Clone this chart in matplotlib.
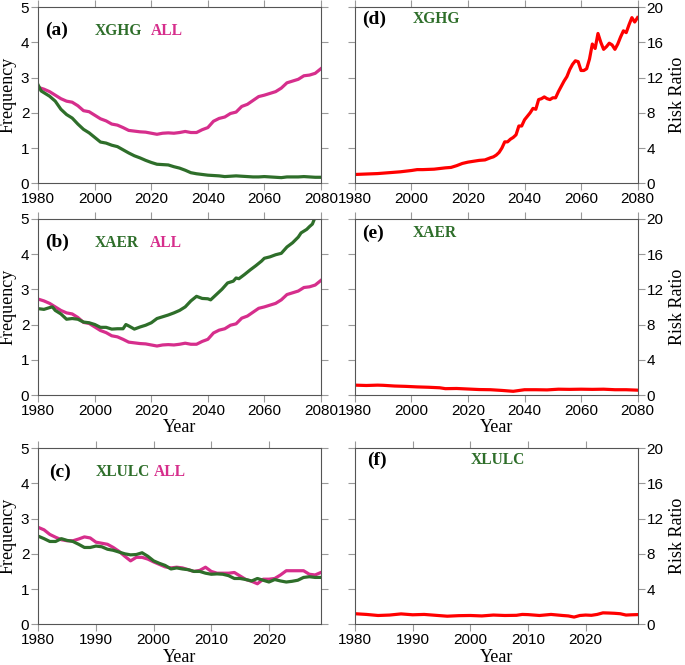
import numpy as np
import matplotlib
matplotlib.use("Agg")
import matplotlib.pyplot as plt

# Frequency, ALL forcing (same curve in a and b)
yr_all = [1980, 1982, 1984, 1986, 1988, 1990, 1992, 1994, 1996, 1998,
          2000, 2002, 2004, 2006, 2008, 2010, 2012, 2014, 2016, 2018,
          2020, 2022, 2024, 2026, 2028, 2030, 2032, 2034, 2036, 2038,
          2040, 2042, 2044, 2046, 2048, 2050, 2052, 2054, 2056, 2058,
          2060, 2062, 2064, 2066, 2068, 2070, 2072, 2074, 2076, 2078, 2080]
freq_all = [2.72, 2.67, 2.60, 2.50, 2.40, 2.33, 2.30, 2.20, 2.06, 2.03,
            1.93, 1.83, 1.77, 1.68, 1.65, 1.58, 1.50, 1.48, 1.46, 1.45,
            1.42, 1.39, 1.42, 1.43, 1.42, 1.44, 1.47, 1.44, 1.44, 1.52,
            1.58, 1.76, 1.84, 1.88, 1.98, 2.02, 2.18, 2.24, 2.35, 2.46,
            2.50, 2.55, 2.60, 2.70, 2.85, 2.90, 2.95, 3.05, 3.07, 3.12, 3.25]

# Frequency, XGHG
yr_xghg = [1980, 1981, 1982, 1984, 1986, 1988, 1990, 1992, 1994, 1996, 1998,
           2000, 2002, 2004, 2006, 2008, 2010, 2012, 2014, 2016, 2018,
           2020, 2022, 2024, 2026, 2028, 2030, 2032, 2034, 2036, 2038,
           2040, 2042, 2044, 2046, 2048, 2050, 2052, 2054, 2056, 2058,
           2060, 2062, 2064, 2066, 2068, 2070, 2072, 2074, 2076, 2078, 2080]
freq_xghg = [2.78, 2.62, 2.57, 2.47, 2.33, 2.10, 1.95, 1.85, 1.68, 1.53, 1.43,
             1.30, 1.17, 1.14, 1.08, 1.04, 0.95, 0.86, 0.78, 0.72, 0.65,
             0.59, 0.54, 0.53, 0.52, 0.47, 0.43, 0.37, 0.30, 0.27, 0.25,
             0.23, 0.22, 0.21, 0.19, 0.20, 0.21, 0.20, 0.19, 0.18, 0.18,
             0.19, 0.18, 0.17, 0.16, 0.18, 0.18, 0.18, 0.19, 0.18, 0.17, 0.17]

# Frequency, XAER
yr_xaer = [1980, 1982, 1984, 1985, 1986, 1988, 1990, 1992, 1994, 1996, 1998,
           2000, 2002, 2004, 2006, 2008, 2010, 2011, 2012, 2014, 2016, 2018,
           2020, 2022, 2024, 2026, 2028, 2030, 2032, 2034, 2036, 2038, 2040,
           2041, 2043, 2045, 2047, 2049, 2050, 2051, 2053, 2055, 2057, 2059,
           2060, 2062, 2064, 2066, 2068, 2070, 2072, 2073, 2075, 2076, 2077, 2078, 2080]
freq_xaer = [2.45, 2.43, 2.48, 2.50, 2.40, 2.30, 2.15, 2.17, 2.15, 2.07, 2.05,
             2.00, 1.92, 1.92, 1.87, 1.88, 1.88, 2.00, 1.96, 1.87, 1.93, 1.98,
             2.05, 2.17, 2.22, 2.27, 2.33, 2.40, 2.50, 2.67, 2.80, 2.74, 2.73,
             2.70, 2.85, 3.00, 3.18, 3.23, 3.32, 3.30, 3.42, 3.55, 3.67, 3.80,
             3.88, 3.92, 3.98, 4.02, 4.20, 4.32, 4.48, 4.60, 4.70, 4.78, 4.85, 5.05, 5.30]

# Frequency, 1980-2029 (panel c)
yr_c = list(range(1980, 2030))
freq_all_c = [2.75, 2.68, 2.55, 2.47, 2.40, 2.37, 2.37, 2.42, 2.48, 2.45,
              2.33, 2.30, 2.27, 2.18, 2.07, 1.93, 1.80, 1.90, 1.90, 1.85,
              1.77, 1.70, 1.63, 1.60, 1.62, 1.60, 1.55, 1.50, 1.53, 1.62,
              1.50, 1.45, 1.45, 1.45, 1.47, 1.37, 1.27, 1.22, 1.15, 1.28,
              1.28, 1.30, 1.40, 1.52, 1.52, 1.52, 1.52, 1.42, 1.40, 1.47]
freq_xlulc = [2.50, 2.43, 2.35, 2.35, 2.43, 2.38, 2.35, 2.27, 2.18, 2.18,
              2.22, 2.20, 2.13, 2.10, 2.05, 2.00, 1.97, 1.98, 2.03, 1.93,
              1.80, 1.73, 1.67, 1.57, 1.60, 1.57, 1.55, 1.50, 1.50, 1.45,
              1.42, 1.43, 1.42, 1.38, 1.30, 1.30, 1.27, 1.23, 1.30, 1.25,
              1.20, 1.27, 1.23, 1.20, 1.22, 1.25, 1.33, 1.35, 1.33, 1.33]

# Risk ratio, XGHG (panel d)
yr_rr_xghg = [1980, 1984, 1988, 1992, 1996, 2000, 2002, 2004, 2008, 2012, 2014,
              2016, 2018, 2020, 2022, 2024, 2026, 2028, 2029, 2030, 2031, 2032,
              2033, 2034, 2035, 2036, 2037, 2038, 2039, 2040, 2041, 2042, 2043,
              2044, 2045, 2046, 2047, 2048, 2049, 2050, 2051, 2052, 2053, 2054,
              2055, 2056, 2057, 2058, 2059, 2060, 2061, 2062, 2063, 2064, 2065,
              2066, 2067, 2068, 2069, 2070, 2071, 2072, 2073, 2074, 2075, 2076,
              2077, 2078, 2079, 2080]
rr_xghg = [1.0, 1.05, 1.1, 1.2, 1.3, 1.45, 1.55, 1.55, 1.6, 1.75, 1.8,
           2.0, 2.25, 2.4, 2.5, 2.6, 2.65, 2.9, 3.0, 3.2, 3.5, 4.0,
           4.7, 4.7, 5.0, 5.2, 5.5, 6.5, 6.5, 7.2, 7.6, 8.0, 8.5,
           8.4, 9.5, 9.6, 9.8, 9.6, 9.5, 9.7, 9.7, 10.4, 11.0, 11.6,
           12.1, 12.9, 13.5, 13.9, 13.8, 12.8, 12.8, 13.0, 14.1, 15.8, 15.3,
           17.0, 16.0, 15.2, 15.5, 15.9, 15.7, 15.2, 15.8, 16.6, 17.3, 17.1,
           18.0, 18.8, 18.3, 18.8]

# Risk ratio, XAER (panel e)
yr_rr_xaer = [1980, 1984, 1988, 1990, 1994, 1998, 2002, 2006, 2010, 2012, 2016,
              2020, 2024, 2028, 2032, 2036, 2040, 2044, 2048, 2052, 2056, 2060,
              2064, 2068, 2072, 2076, 2080]
rr_xaer = [1.12, 1.08, 1.12, 1.10, 1.02, 0.98, 0.92, 0.88, 0.82, 0.72, 0.74,
           0.68, 0.62, 0.60, 0.52, 0.42, 0.60, 0.60, 0.58, 0.66, 0.64, 0.66,
           0.64, 0.66, 0.60, 0.60, 0.55]

# Risk ratio, XLULC (panel f)
yr_rr_xlulc = [1980, 1982, 1984, 1986, 1988, 1990, 1992, 1994, 1996, 1998, 2000,
               2002, 2004, 2006, 2008, 2009, 2010, 2012, 2014, 2016, 2017, 2018,
               2019, 2020, 2021, 2022, 2023, 2024, 2025, 2026, 2027, 2028, 2029]
rr_xlulc = [1.2, 1.12, 1.0, 1.05, 1.18, 1.08, 1.12, 1.02, 0.92, 0.98, 1.0,
            0.95, 1.05, 1.0, 1.02, 1.12, 1.1, 1.0, 1.12, 1.0, 0.95, 0.82,
            1.0, 1.05, 1.02, 1.12, 1.3, 1.28, 1.25, 1.2, 1.05, 1.08, 1.1]

GREEN = '#2e6e2a'
PINK = '#d62e8c'
RED = '#ff0000'
SANS = 'Liberation Sans'
SERIF = 'Liberation Serif'

plt.rcParams['font.family'] = SANS

fig = plt.figure(figsize=(6.85, 6.65), dpi=100)

lw_ax = 0.0559
rw_ax = 0.5182
ax_w = 0.4125
ax_h = 0.2650
rows = [0.7244, 0.4060, 0.0612]

def style(ax, right=False):
    for s in ax.spines.values():
        s.set_color('#555555')
        s.set_linewidth(0.8)
    ax.tick_params(direction='out', length=5, width=0.8, color='#999999',
                   top=True, right=True, left=True, bottom=True,
                   labelsize=11, pad=1.5)
    if right:
        ax.tick_params(labelleft=False, labelright=True)
    for lab in ax.get_xticklabels() + ax.get_yticklabels():
        lab.set_fontfamily(SANS)

axes = {}
for i, key in enumerate(['a', 'b', 'c']):
    axes[key] = fig.add_axes([lw_ax, rows[i], ax_w, ax_h])
for i, key in enumerate(['d', 'e', 'f']):
    axes[key] = fig.add_axes([rw_ax, rows[i], ax_w, ax_h])

# left column: frequency
ax = axes['a']
ax.plot(yr_all, freq_all, color=PINK, lw=2.3)
ax.plot(yr_xghg, freq_xghg, color=GREEN, lw=2.3)

ax = axes['b']
ax.plot(yr_all, freq_all, color=PINK, lw=2.3)
ax.plot(yr_xaer, freq_xaer, color=GREEN, lw=2.3)

ax = axes['c']
ax.plot(yr_c, freq_all_c, color=PINK, lw=2.3)
ax.plot(yr_c, freq_xlulc, color=GREEN, lw=2.3)

for key in ['a', 'b', 'c']:
    ax = axes[key]
    ax.set_ylim(0, 5)
    ax.set_yticks(range(0, 6))
    ax.set_ylabel('Frequency', fontfamily=SERIF, fontsize=13, labelpad=3)

# right column: risk ratio
axes['d'].plot(yr_rr_xghg, rr_xghg, color=RED, lw=2.3)
axes['e'].plot(yr_rr_xaer, rr_xaer, color=RED, lw=2.3)
axes['f'].plot(yr_rr_xlulc, rr_xlulc, color=RED, lw=2.3)

for key in ['d', 'e', 'f']:
    ax = axes[key]
    ax.set_ylim(0, 20)
    ax.set_yticks(range(0, 21, 4))
    ax.yaxis.set_label_position('right')
    ax.set_ylabel('Risk Ratio', fontfamily=SERIF, fontsize=13, labelpad=4)

for key in ['a', 'b', 'd', 'e']:
    axes[key].set_xlim(1980, 2080)
    axes[key].set_xticks(range(1980, 2081, 20))
for key in ['c', 'f']:
    axes[key].set_xlim(1980, 2029)
    axes[key].set_xticks(range(1980, 2021, 10))
for key in ['b', 'c', 'e', 'f']:
    axes[key].set_xlabel('Year', fontfamily=SERIF, fontsize=13, labelpad=1)

for key in ['a', 'b', 'c']:
    style(axes[key])
for key in ['d', 'e', 'f']:
    style(axes[key], right=True)

# panel labels and series names
def tag(ax, x, y, s, color='black', size=14):
    ax.text(x, y, s, transform=ax.transAxes, fontfamily=SERIF,
            fontweight='bold', fontsize=size, color=color, va='center')

NAME = 11.2
tag(axes['a'], 0.025, 0.865, '(a)')
tag(axes['a'], 0.20, 0.865, 'XGHG', GREEN, NAME)
tag(axes['a'], 0.40, 0.865, 'ALL', PINK, NAME)
tag(axes['b'], 0.025, 0.865, '(b)')
tag(axes['b'], 0.20, 0.865, 'XAER', GREEN, NAME)
tag(axes['b'], 0.395, 0.865, 'ALL', PINK, NAME)
tag(axes['c'], 0.04, 0.865, '(c)')
tag(axes['c'], 0.205, 0.865, 'XLULC', GREEN, NAME)
tag(axes['c'], 0.41, 0.865, 'ALL', PINK, NAME)
tag(axes['d'], 0.025, 0.93, '(d)')
tag(axes['d'], 0.205, 0.93, 'XGHG', GREEN, NAME)
tag(axes['e'], 0.025, 0.92, '(e)')
tag(axes['e'], 0.205, 0.92, 'XAER', GREEN, NAME)
tag(axes['f'], 0.042, 0.93, '(f)')
tag(axes['f'], 0.41, 0.93, 'XLULC', GREEN, NAME)

fig.savefig('out.png', dpi=100)
